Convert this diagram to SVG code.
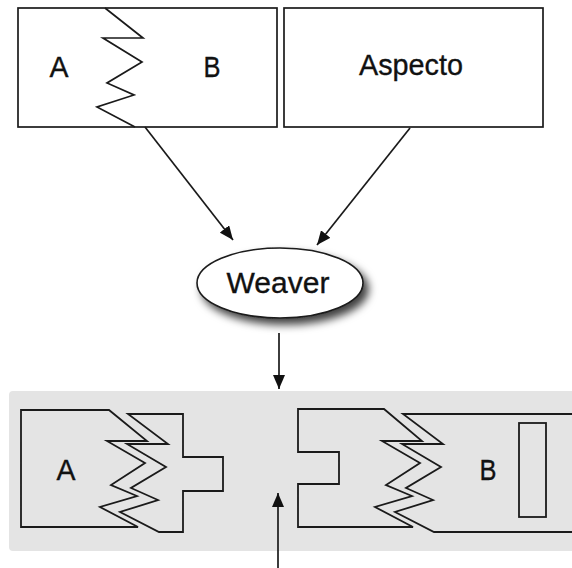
<svg xmlns="http://www.w3.org/2000/svg" width="572" height="568" viewBox="0 0 572 568">
  <style>
    .box { fill: #ffffff; stroke: #1a1a1a; stroke-width: 1.7; }
    .cut { fill: none; stroke: #1a1a1a; stroke-width: 1.7; stroke-linejoin: miter; }
    .piece { fill: none; stroke: #1a1a1a; stroke-width: 1.8; stroke-linejoin: miter; }
    .lbl { font-family: "Liberation Sans", Arial, sans-serif; font-size: 30px; fill: #111111; stroke: #111111; stroke-width: 0.35; text-anchor: middle; }
    .edge { fill: none; stroke: #1a1a1a; stroke-width: 1.7; }
  </style>
  <defs>
    <marker id="head" viewBox="0 0 14 12" refX="14" refY="6" markerWidth="14" markerHeight="12" markerUnits="userSpaceOnUse" orient="auto">
      <path d="M0,0 L14,6 L0,12 Z" fill="#111111"/>
    </marker>
    <filter id="shadow" x="-20%" y="-30%" width="150%" height="170%">
      <feDropShadow dx="5" dy="6" stdDeviation="4.5" flood-color="#000000" flood-opacity="0.75"/>
    </filter>
  </defs>

  <rect width="572" height="568" fill="#ffffff"/>

  <!-- woven result band -->
  <rect id="band" x="9" y="391" width="575" height="160" rx="4" fill="#e4e4e4"/>

  <!-- source module split into A and B -->
  <g id="module-ab">
    <rect class="box" x="18" y="8" width="259" height="119"/>
    <polyline class="cut" points="105,8 143,38 103,38 142,62 107,83 134,95 97,107 135,127"/>
    <text class="lbl" x="59" y="77" textLength="19" lengthAdjust="spacingAndGlyphs">A</text>
    <text class="lbl" x="212" y="77" textLength="17" lengthAdjust="spacingAndGlyphs">B</text>
  </g>

  <!-- aspect module -->
  <g id="aspecto">
    <rect class="box" x="284" y="8" width="259" height="119"/>
    <text class="lbl" x="411" y="75" textLength="104" lengthAdjust="spacingAndGlyphs">Aspecto</text>
  </g>

  <!-- weaver -->
  <g id="weaver">
    <ellipse cx="280" cy="283" rx="83" ry="35" fill="#ffffff" stroke="#1a1a1a" stroke-width="1.6" filter="url(#shadow)"/>
    <text class="lbl" x="278" y="293">Weaver</text>
  </g>

  <!-- woven left half: A with the aspect piece attached -->
  <g id="woven-a">
    <path class="piece" d="M21,410 H109 L147,441 H107 L145,463 L111,485 L137,496 L100,507 L138,527 H21 Z"/>
    <path class="piece" d="M128,414 H183 V457 H223 V491 H183 V532 H159 L120,512 L158,500 L131,488 L166,467 L127,444 H168 Z"/>
    <text class="lbl" x="66" y="480" textLength="19" lengthAdjust="spacingAndGlyphs">A</text>
  </g>

  <!-- woven right half: aspect piece with notch attached to B -->
  <g id="woven-b">
    <path class="piece" d="M298,409 H384 L422,441 H382 L420,463 L386,485 L412,496 L375,507 L413,527 H298 V484 H339 V452 H298 Z"/>
    <path class="piece" d="M580,414 H403 L443,444 H402 L441,467 L406,488 L433,500 L395,512 L434,532 H580"/>
    <rect class="piece" x="519" y="423" width="27" height="94"/>
    <text class="lbl" x="488" y="480" textLength="17" lengthAdjust="spacingAndGlyphs">B</text>
  </g>

  <!-- connectors -->
  <g id="connectors">
    <line class="edge" x1="145" y1="127" x2="233" y2="240" marker-end="url(#head)"/>
    <line class="edge" x1="410" y1="128" x2="317" y2="245" marker-end="url(#head)"/>
    <line class="edge" x1="279" y1="333" x2="279" y2="389" marker-end="url(#head)"/>
    <line class="edge" x1="278" y1="568" x2="278" y2="493" marker-end="url(#head)"/>
  </g>
</svg>
